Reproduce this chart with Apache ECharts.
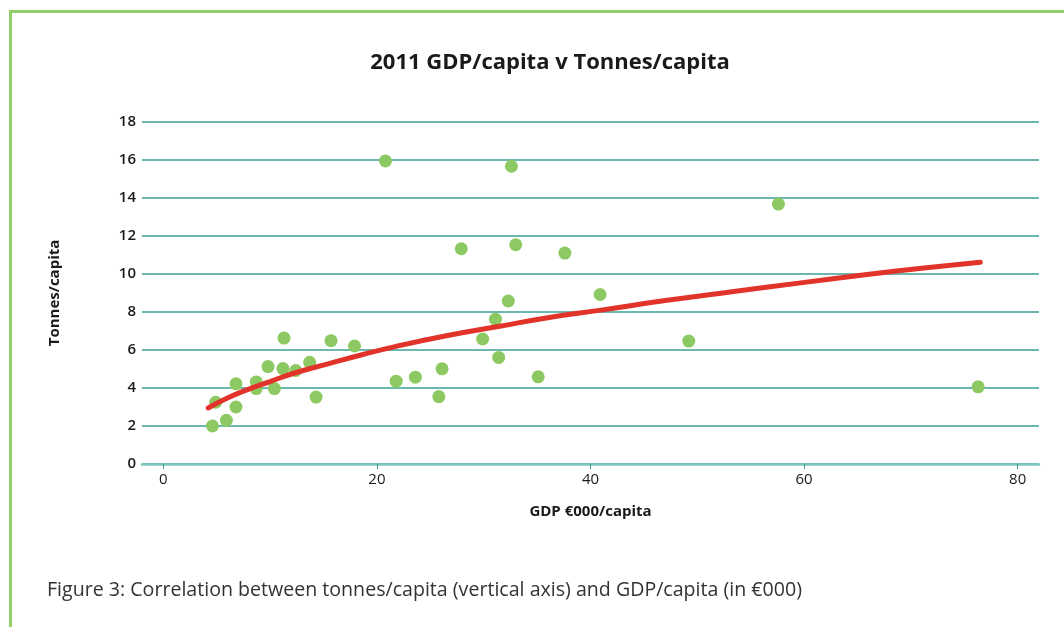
<!DOCTYPE html>
<html>
<head>
<meta charset="utf-8">
<script src="https://cdn.jsdelivr.net/npm/echarts@6/dist/echarts.min.js"></script>
<style>
html,body{margin:0;padding:0;background:#fff;}
#chart{width:1064px;height:627px;}
</style>
</head>
<body>
<div id="chart"></div>
<script>
// GDP (€000/capita) and tonnes/capita for each point
const gdpValues = [4.6, 4.9, 5.9, 6.8, 6.8, 8.7, 8.7, 9.8, 10.4, 11.2, 11.3, 12.4, 13.7, 14.3, 15.7, 17.9, 20.8, 21.8, 23.6, 25.8, 26.1, 27.9, 29.9, 31.1, 31.4, 32.3, 32.6, 33.0, 35.1, 37.6, 40.9, 49.2, 57.6, 76.3];
const tonnesValues = [2.0, 3.25, 2.3, 4.22, 3.0, 4.32, 3.97, 5.13, 3.97, 5.02, 6.63, 4.92, 5.35, 3.52, 6.49, 6.21, 15.95, 4.36, 4.57, 3.55, 5.01, 11.33, 6.58, 7.62, 5.61, 8.58, 15.67, 11.54, 4.59, 11.1, 8.92, 6.47, 13.68, 4.06];
// Trend line
const trendX = [4.2, 6, 8, 10, 12.3, 15.5, 18.6, 21.7, 26.5, 31.5, 36, 41, 47, 53.4, 59.5, 65.9, 71, 76.5];
const trendY = [2.95, 3.47, 3.94, 4.34, 4.79, 5.28, 5.75, 6.18, 6.75, 7.25, 7.7, 8.1, 8.6, 9.08, 9.52, 9.97, 10.3, 10.62];
const xTicks = [0, 20, 40, 60, 80];
const yTicks = [0, 2, 4, 6, 8, 10, 12, 14, 16, 18];

const titleText = '2011 GDP/capita v Tonnes/capita';
const xName = 'GDP €000/capita';
const yName = 'Tonnes/capita';
const captionText = 'Figure 3: Correlation between tonnes/capita (vertical axis) and GDP/capita (in €000)';

const chart = echarts.init(document.getElementById('chart'), null, {renderer: 'canvas'});
const FONT = '"Open Sans", "DejaVu Sans", sans-serif';
const option = {
  backgroundColor: '#ffffff',
  animation: false,
  title: {
    text: titleText,
    left: 545, textAlign: 'center', top: 47,
    textStyle: {fontFamily: FONT, fontSize: 22, fontWeight: 'bold', color: '#1a1a1a'}
  },
  graphic: [
    {type: 'polyline', shape: {points: [[10.5, 640], [10.5, 11.5], [1070, 11.5]]},
     style: {stroke: '#92cf6c', lineWidth: 3, fill: null}},
    {type: 'text', left: 47, top: 580,
     style: {text: captionText, fontFamily: FONT, fontSize: 19.6, fill: '#333333'}}
  ],
  grid: {left: 142, right: 25, top: 122, bottom: 163, containLabel: false},
  xAxis: {
    type: 'value', min: -2, max: 82,
    name: xName, nameLocation: 'middle', nameGap: 40,
    nameTextStyle: {fontFamily: FONT, fontSize: 15, fontWeight: 'bold', color: '#1a1a1a'},
    axisLine: {show: true, onZero: false, lineStyle: {color: '#7fc6bf', width: 2.5}},
    axisTick: {show: true, length: 5, customValues: xTicks, lineStyle: {color: '#3d9f97', width: 1}},
    axisLabel: {customValues: xTicks, margin: 8, fontFamily: FONT, fontSize: 15, color: '#1a1a1a'},
    splitLine: {show: false}
  },
  yAxis: {
    type: 'value', min: 0, max: 18, interval: 2,
    name: yName, nameLocation: 'middle', nameGap: 80, nameRotate: 90,
    nameTextStyle: {fontFamily: FONT, fontSize: 15, fontWeight: 'bold', color: '#1a1a1a'},
    axisLine: {show: false},
    axisTick: {show: false},
    axisLabel: {margin: 6, fontFamily: FONT, fontSize: 15, fontWeight: 600, color: '#1a1a1a'},
    splitLine: {show: true, lineStyle: {color: '#3d9f97', width: 1.5}}
  },
  series: [
    {
      type: 'scatter', symbol: 'circle', symbolSize: 13,
      itemStyle: {color: '#8cc963', opacity: 1},
      data: gdpValues.map((g, i) => [g, tonnesValues[i]]),
      z: 3
    },
    {
      type: 'line', smooth: true, showSymbol: false, symbol: 'none',
      lineStyle: {color: '#e2332a', width: 5, cap: 'round'},
      data: trendX.map((x, i) => [x, trendY[i]]),
      z: 4
    }
  ]
};
chart.setOption(option);
</script>
</body>
</html>
